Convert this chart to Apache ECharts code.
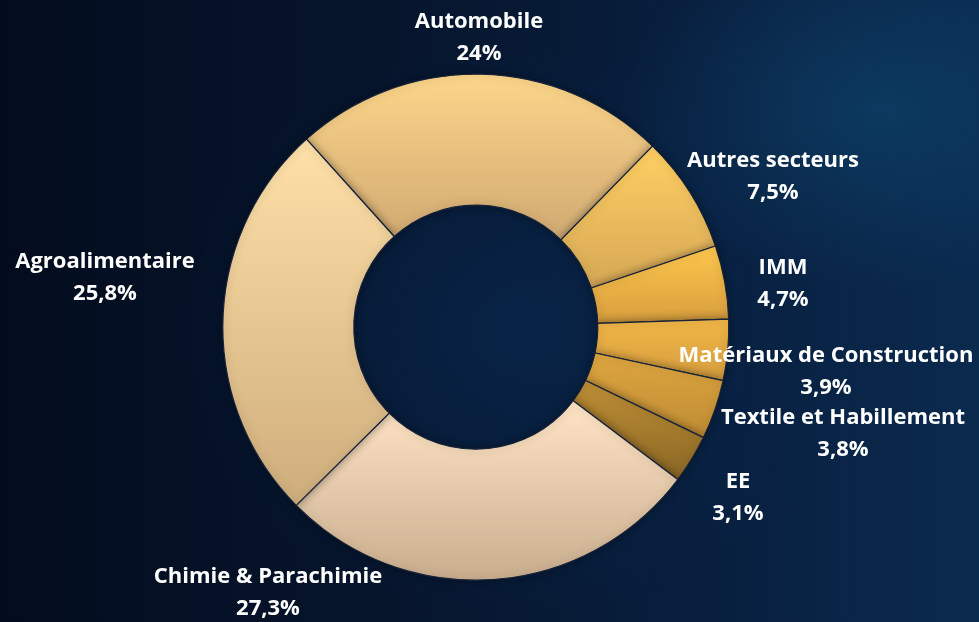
<!DOCTYPE html>
<html>
<head>
<meta charset="utf-8">
<script src="https://cdn.jsdelivr.net/npm/echarts@6/dist/echarts.min.js"></script>
<style>
  html, body { margin: 0; padding: 0; }
  body {
    width: 979px; height: 622px; overflow: hidden;
    background:
      radial-gradient(ellipse 380px 260px at 880px 110px, rgba(14, 70, 110, 0.6), rgba(14, 70, 110, 0) 70%),
      radial-gradient(ellipse 460px 380px at 520px 330px, rgba(8, 36, 72, 0.9), rgba(8, 36, 72, 0) 75%),
      linear-gradient(90deg, #030c1e 0%, #06152c 40%, #082040 75%, #0a2a4e 100%);
  }
  #chart { width: 979px; height: 622px; }
</style>
</head>
<body>
<div id="chart"></div>
<script>
// secteurs, dans le sens horaire à partir d'Automobile
const sectors = ['Automobile', 'Autres secteurs', 'IMM', 'Matériaux de Construction',
  'Textile et Habillement', 'EE', 'Chimie & Parachimie', 'Agroalimentaire']
const shares = [24, 7.5, 4.7, 3.9, 3.8, 3.1, 27.3, 25.8]
const shareLabels = ['24%', '7,5%', '4,7%', '3,9%', '3,8%', '3,1%', '27,3%', '25,8%']

// dégradé haut -> bas pour chaque part
const sliceColors = [
  ['#fdd68a', '#d0a972'],
  ['#ffd062', '#d5a756'],
  ['#ffc84c', '#d69d3e'],
  ['#f2b747', '#d49c3e'],
  ['#dea640', '#bf8c34'],
  ['#bf8f36', '#8a6624'],
  ['#ffe5c5', '#c9ae8e'],
  ['#fee0a8', '#cead7c']
]

// emplacement des étiquettes (centre du bloc de texte)
const labelPos = [
  [479, 38], [773, 177], [783, 284], [826, 372],
  [843, 434], [738, 498], [268, 593], [105, 278]
]

const chart = echarts.init(document.getElementById('chart'))

const option = {
  backgroundColor: 'transparent',
  series: [{
    type: 'pie',
    center: ['48.6%', '52.6%'],
    radius: [122, 253],
    startAngle: 132,
    clockwise: true,
    avoidLabelOverlap: false,
    silent: true,
    data: sectors.map((name, i) => ({
      name,
      value: shares[i],
      itemStyle: {
        color: new echarts.graphic.LinearGradient(0, 0, 0, 1, [
          { offset: 0, color: sliceColors[i][0] },
          { offset: 1, color: sliceColors[i][1] }
        ])
      }
    })),
    itemStyle: {
      borderColor: '#16233a',
      borderWidth: 1.2,
      shadowBlur: 8,
      shadowColor: 'rgba(0, 0, 0, 0.35)'
    },
    label: {
      show: true,
      position: 'outside',
      formatter: (p) => p.name + '\n' + shareLabels[p.dataIndex],
      color: '#ffffff',
      fontFamily: 'Open Sans',
      fontWeight: 'bold',
      fontSize: 22,
      lineHeight: 32,
      align: 'center'
    },
    labelLine: { show: false },
    labelLayout: (params) => ({
      x: labelPos[params.dataIndex][0],
      y: labelPos[params.dataIndex][1],
      align: 'center',
      verticalAlign: 'middle'
    })
  }]
}

chart.setOption(option)
</script>
</body>
</html>
